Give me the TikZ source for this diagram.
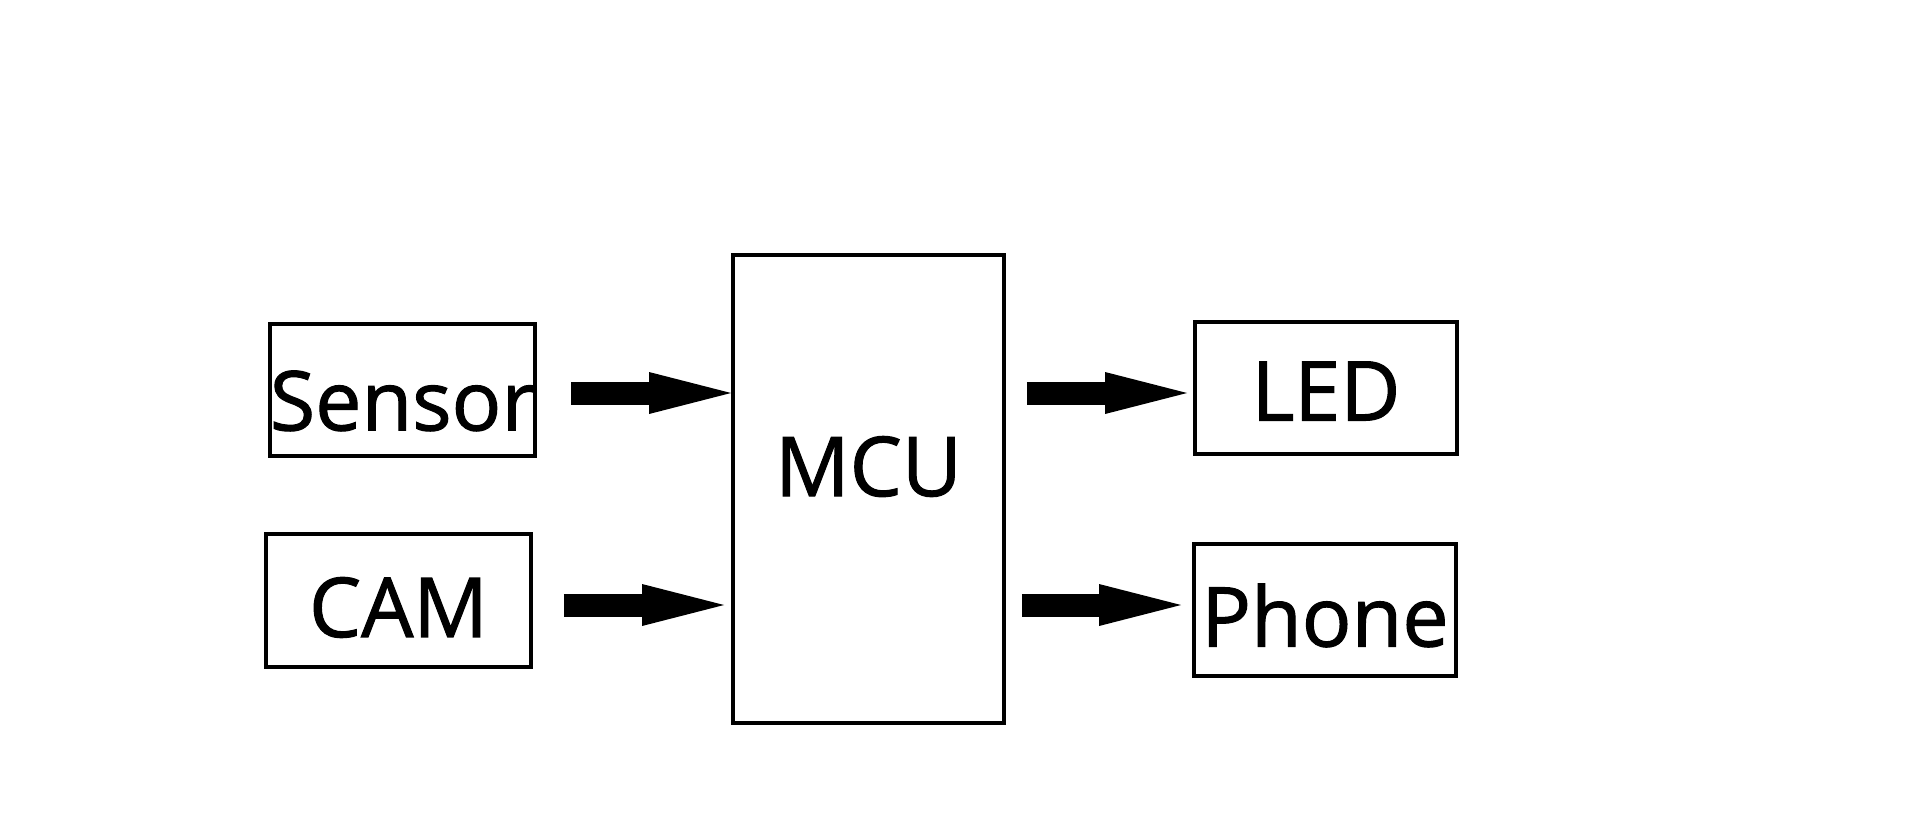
\documentclass[tikz,border=0pt]{standalone}
\usepackage{fontspec}
\setmainfont{Open Sans}
\newfontfamily\boxfont{Open Sans}[FakeBold=1.3]
\usetikzlibrary{arrows.meta}

\begin{document}
\begin{tikzpicture}[x=0.02cm, y=-0.02cm,
    box/.style={draw=black, line width=0.08cm, inner sep=0pt, text depth=0pt, font=\boxfont\fontsize{47}{56}\selectfont},
    bigarrow/.style={line width=0.46cm, -{Triangle[length=1.64cm, width=0.84cm, line width=0pt]}}]
    \useasboundingbox (0,0) rectangle (1914,829);

    \node[box, minimum width=5.26cm, minimum height=2.64cm, text height=46pt] (sensor) at (402.5,390) {Sensor};
    \node[box, minimum width=5.30cm, minimum height=2.66cm, text height=41.5pt] (cam) at (398.5,600.5) {CAM};
    \node[box, minimum width=5.42cm, minimum height=9.36cm, text height=33pt, text depth=25pt] (mcu) at (868.5,489) {MCU};
    \node[box, minimum width=5.24cm, minimum height=2.64cm, text height=37pt] (led) at (1326,388) {LED};
    \node[box, minimum width=5.24cm, minimum height=2.64cm, text height=41.5pt] (phone) at (1325,610) {Phone};

    % inputs
    \draw[bigarrow, shorten <=0.68cm] ([yshift=-0.06cm]sensor.east) -- ([yshift=-0.06cm]sensor.east -| mcu.west);
    \draw[bigarrow, shorten <=0.62cm, shorten >=0.14cm] ([yshift=-0.09cm]cam.east) -- ([yshift=-0.09cm]cam.east -| mcu.west);

    % outputs
    \draw[bigarrow, shorten <=0.42cm, shorten >=0.12cm] ([yshift=-0.1cm]led.west -| mcu.east) -- ([yshift=-0.1cm]led.west);
    \draw[bigarrow, shorten <=0.32cm, shorten >=0.22cm] ([yshift=0.1cm]phone.west -| mcu.east) -- ([yshift=0.1cm]phone.west);
\end{tikzpicture}
\end{document}
